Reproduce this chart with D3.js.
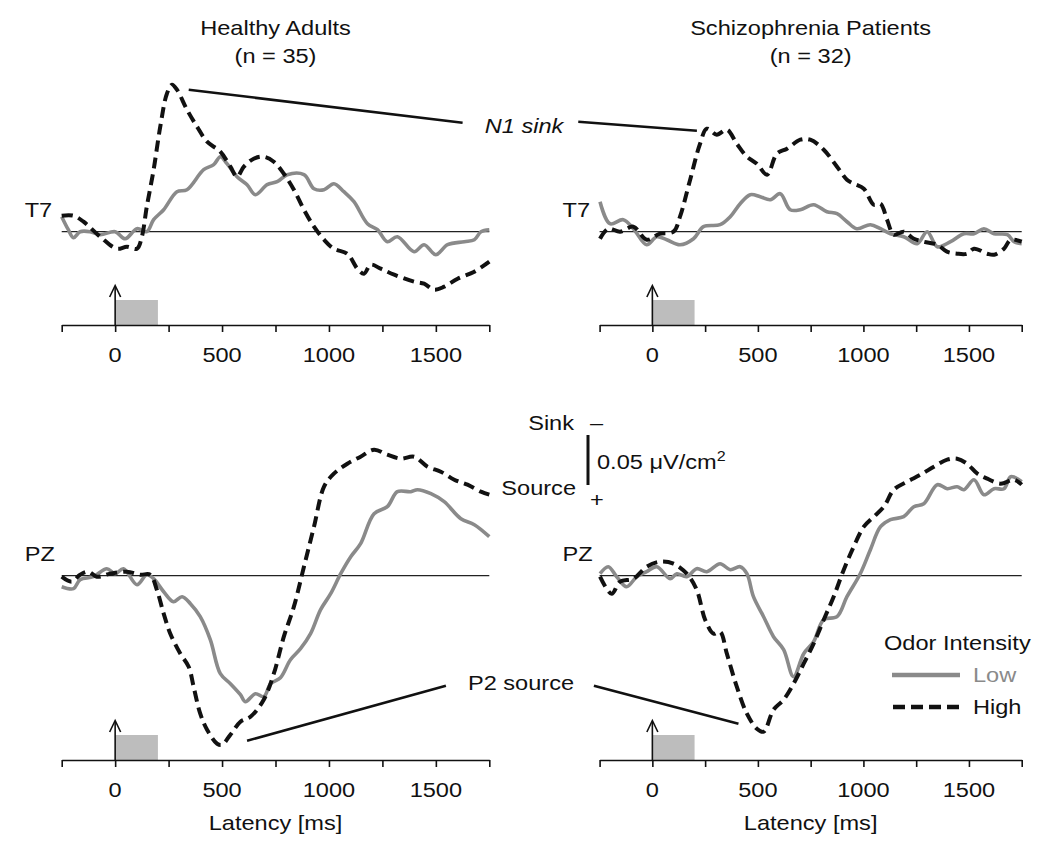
<!DOCTYPE html>
<html><head><meta charset="utf-8">
<script src="https://cdn.jsdelivr.net/npm/d3@7"></script>
<style>
html,body{margin:0;padding:0;background:#fff;}
svg{display:block;font-family:"Liberation Sans",Arial,Helvetica,sans-serif;}
</style></head>
<body>
<svg id="chart" width="1050" height="846"></svg>
<script>
// ---------- DATA (latency in ms, CSD in µV/cm², sink negative / source positive) ----------
const groups = ["Healthy Adults", "Schizophrenia Patients"];
const groupN = ["(n = 35)", "(n = 32)"];
const electrodes = ["T7", "PZ"];
const xTickValues = [-250, 0, 250, 500, 750, 1000, 1250, 1500, 1750];
const xTickLabels = ["", "0", "", "500", "", "1000", "", "1500", ""];
const seriesNames = ["Low", "High"];

// T7 – Healthy – Low
const t7HealthyLowT = [-250,-219,-195,-164,-117,-70,0,47,102,148,180,227,289,336,414,461,492,523,570,617,656,711,758,805,883,930,977,1023,1070,1117,1180,1227,1273,1320,1398,1445,1500,1555,1633,1680,1711,1750];
const t7HealthyLowV = [-0.015,-0.002,0.006,0,0,0.003,0,0.007,-0.003,0,-0.012,-0.022,-0.040,-0.042,-0.062,-0.067,-0.075,-0.068,-0.055,-0.047,-0.037,-0.047,-0.050,-0.057,-0.057,-0.043,-0.042,-0.048,-0.040,-0.030,-0.008,-0.002,0.010,0.005,0.020,0.013,0.023,0.013,0.010,0.008,0,-0.002];
// T7 – Healthy – High
const t7HealthyHighT = [-250,-195,-148,-70,8,55,102,125,148,180,211,242,266,289,336,383,430,492,539,570,602,648,695,742,789,836,883,930,977,1023,1086,1133,1164,1195,1242,1305,1398,1445,1492,1539,1602,1680,1750];
const t7HealthyHighV = [-0.016,-0.016,-0.010,0.005,0.017,0.015,0.017,0.005,-0.025,-0.062,-0.105,-0.138,-0.147,-0.142,-0.122,-0.105,-0.090,-0.080,-0.065,-0.055,-0.065,-0.073,-0.075,-0.070,-0.058,-0.042,-0.022,-0.005,0.008,0.017,0.022,0.037,0.042,0.033,0.037,0.043,0.050,0.052,0.058,0.055,0.047,0.040,0.030];
// T7 – Patients – Low
const t7PatientLowT = [-248,-201,-138,-90,-27,21,68,131,195,242,321,369,416,464,511,559,606,653,701,764,827,875,922,969,1033,1081,1128,1191,1255,1302,1350,1413,1476,1524,1571,1619,1682,1714,1750];
const t7PatientLowV = [-0.030,-0.008,-0.012,-0.003,0.013,0.005,0.008,0.013,0.007,-0.005,-0.007,-0.015,-0.028,-0.037,-0.035,-0.032,-0.038,-0.022,-0.022,-0.027,-0.020,-0.018,-0.010,-0.003,-0.007,-0.003,0.002,0.005,0.012,0,0.015,0.010,0.002,0.002,-0.003,0.002,0.003,0.010,0.012];
// T7 – Patients – High
const t7PatientHighT = [-248,-209,-153,-90,-27,36,100,131,179,226,258,305,353,400,448,495,543,590,638,701,748,812,875,922,954,1002,1049,1081,1112,1144,1191,1239,1286,1350,1396,1444,1491,1524,1587,1619,1666,1698,1750];
const t7PatientHighV = [0.007,-0.003,0,-0.005,0.008,0.002,0,-0.015,-0.052,-0.088,-0.103,-0.097,-0.102,-0.088,-0.075,-0.068,-0.057,-0.078,-0.083,-0.092,-0.092,-0.082,-0.065,-0.052,-0.048,-0.043,-0.027,-0.028,-0.012,0.003,0,0.007,0.010,0.013,0.020,0.022,0.022,0.017,0.022,0.023,0.017,0.008,0.010];
// PZ – Healthy – Low
const pzHealthyLowT = [-250,-195,-164,-102,-39,0,39,102,148,180,227,273,313,352,398,445,492,539,586,609,656,695,727,773,820,867,914,961,1008,1055,1102,1148,1211,1273,1320,1383,1414,1477,1539,1617,1680,1750];
const pzHealthyLowV = [0.011,0.013,0.004,0.001,-0.007,-0.002,-0.007,0.009,-0.001,0.003,0.016,0.026,0.021,0.028,0.041,0.064,0.098,0.108,0.119,0.126,0.118,0.121,0.108,0.102,0.084,0.073,0.058,0.034,0.018,-0.002,-0.019,-0.032,-0.062,-0.069,-0.084,-0.084,-0.086,-0.082,-0.074,-0.057,-0.051,-0.039];
// PZ – Healthy – High
const pzHealthyHighT = [-250,-203,-164,-125,-86,-23,55,117,164,195,227,258,305,344,367,398,430,477,500,539,586,633,695,742,789,836,883,930,977,1023,1086,1148,1211,1273,1336,1398,1461,1523,1586,1648,1711,1750];
const pzHealthyHighV = [0.001,0.006,-0.001,-0.004,0.001,-0.002,-0.004,-0.001,-0.001,0.014,0.038,0.058,0.078,0.091,0.111,0.138,0.154,0.168,0.169,0.159,0.146,0.141,0.124,0.098,0.061,0.031,-0.009,-0.049,-0.089,-0.102,-0.112,-0.119,-0.126,-0.121,-0.117,-0.119,-0.109,-0.104,-0.096,-0.091,-0.084,-0.081];
// PZ – Patients – Low
const pzPatientLowT = [-248,-209,-169,-122,-74,-27,21,84,116,163,210,258,321,369,416,448,479,527,574,622,669,717,764,812,875,922,985,1033,1081,1128,1191,1239,1286,1350,1397,1444,1476,1524,1571,1619,1666,1698,1750];
const pzPatientLowV = [-0.002,-0.009,0.001,0.011,0.001,-0.004,-0.009,0.003,-0.002,0.001,-0.007,-0.004,-0.012,-0.006,-0.009,-0.002,0.021,0.041,0.061,0.074,0.101,0.078,0.066,0.044,0.041,0.021,-0.002,-0.026,-0.049,-0.056,-0.059,-0.069,-0.072,-0.091,-0.087,-0.089,-0.086,-0.096,-0.081,-0.087,-0.087,-0.099,-0.094];
// PZ – Patients – High
const pzPatientHighT = [-248,-193,-153,-90,-27,36,100,163,210,250,290,321,353,400,448,495,527,574,622,669,717,764,812,859,907,954,1002,1049,1097,1144,1207,1271,1334,1397,1444,1491,1540,1587,1650,1714,1750];
const pzPatientHighV = [0.001,0.018,0.006,0.003,-0.009,-0.014,-0.012,-0.002,0.014,0.044,0.058,0.056,0.078,0.111,0.138,0.153,0.156,0.134,0.124,0.108,0.088,0.068,0.044,0.021,-0.006,-0.029,-0.049,-0.059,-0.069,-0.086,-0.094,-0.101,-0.109,-0.116,-0.117,-0.112,-0.102,-0.097,-0.092,-0.096,-0.091];

const stimulusWindow = [0, 200];   // odor presentation (ms)
const scaleBarValue = 0.05;        // µV/cm²

// ---------- LAYOUT ----------
const svg = d3.select("#chart");
const SX = 1.15;           // horizontal text stretch of the original figure
const FS = 20.5;
const cLow = "#8a8a8a", cHigh = "#111";

function txt(x, y, s, anchor, opt = {}) {
  const t = svg.append("text")
    .attr("transform", `translate(${x},${y}) scale(${SX},1)`)
    .attr("text-anchor", anchor || "start")
    .attr("font-size", opt.size || FS)
    .attr("fill", opt.fill || "#111")
    .attr("font-style", opt.italic ? "italic" : null)
    .text(s);
  return t;
}

const colX = [[61.7, 489.3], [599.6, 1021.7]];
const rowY = [{ zero: 231.7, axis: 325 }, { zero: 575.7, axis: 760 }];
const pxPerUnit = 1000;  // px per µV/cm²

const panels = [
  { row: 0, col: 0, low: [t7HealthyLowT, t7HealthyLowV], high: [t7HealthyHighT, t7HealthyHighV] },
  { row: 0, col: 1, low: [t7PatientLowT, t7PatientLowV], high: [t7PatientHighT, t7PatientHighV] },
  { row: 1, col: 0, low: [pzHealthyLowT, pzHealthyLowV], high: [pzHealthyHighT, pzHealthyHighV] },
  { row: 1, col: 1, low: [pzPatientLowT, pzPatientLowV], high: [pzPatientHighT, pzPatientHighV] },
];

const scales = {};
panels.forEach(p => {
  const x = d3.scaleLinear().domain([-250, 1750]).range(colX[p.col]);
  const z = rowY[p.row].zero;
  const y = d3.scaleLinear().domain([-0.2, 0.2]).range([z - 0.2 * pxPerUnit, z + 0.2 * pxPerUnit]);
  scales[p.row + "_" + p.col] = { x, y };
  const g = svg.append("g");
  const axisY = rowY[p.row].axis;

  // stimulus bar
  g.append("rect")
    .attr("x", x(stimulusWindow[0])).attr("width", x(stimulusWindow[1]) - x(stimulusWindow[0]))
    .attr("y", axisY - 25).attr("height", 25).attr("fill", "#bdbdbd");
  // onset arrow
  const ax = x(0);
  g.append("line").attr("x1", ax).attr("x2", ax).attr("y1", axisY).attr("y2", axisY - 38)
    .attr("stroke", "#111").attr("stroke-width", 1.6);
  g.append("path").attr("d", `M${ax - 5.5},${axisY - 28} L${ax},${axisY - 39.5} L${ax + 5.5},${axisY - 28}`)
    .attr("fill", "none").attr("stroke", "#111").attr("stroke-width", 1.6);

  // x axis
  const xAxis = d3.axisBottom(x).tickValues(xTickValues).tickSize(7).tickSizeOuter(0)
    .tickFormat((d, i) => "");
  const axG = g.append("g").attr("transform", `translate(0,${axisY})`).call(xAxis);
  axG.select(".domain").attr("stroke", "#111").attr("stroke-width", 1.6);
  axG.selectAll(".tick line").attr("stroke", "#111").attr("stroke-width", 1.6);
  xTickValues.forEach((v, i) => {
    if (xTickLabels[i]) txt(x(v), axisY + 37, xTickLabels[i], "middle");
  });

  // zero line
  g.append("line").attr("x1", x(-250)).attr("x2", x(1750)).attr("y1", y(0)).attr("y2", y(0))
    .attr("stroke", "#222").attr("stroke-width", 1.3);

  const line = d3.line().curve(d3.curveCatmullRom.alpha(0.5)).x(d => x(d[0])).y(d => y(d[1]));
  const lowPts = p.low[0].map((t, i) => [t, p.low[1][i]]);
  const highPts = p.high[0].map((t, i) => [t, p.high[1][i]]);
  g.append("path").attr("d", line(lowPts)).attr("fill", "none").attr("stroke", cLow)
    .attr("stroke-width", 3.6).attr("stroke-linejoin", "round");
  g.append("path").attr("d", line(highPts)).attr("fill", "none").attr("stroke", cHigh)
    .attr("stroke-width", 4).attr("stroke-dasharray", "11,6");

  // electrode label
  txt(colX[p.col][0] - 37, z - 15, electrodes[p.row], "start");
});

// titles
groups.forEach((gname, i) => {
  const cx = (colX[i][0] + colX[i][1]) / 2;
  txt(cx, 35, gname, "middle");
  txt(cx, 63, groupN[i], "middle");
});

// x axis titles
[0, 1].forEach(c => txt((colX[c][0] + colX[c][1]) / 2, 830, "Latency [ms]", "middle"));

// annotations N1 sink
const sTL = scales["0_0"], sTR = scales["0_1"], sBL = scales["1_0"], sBR = scales["1_1"];
function annLine(s, t1, v1, t2, v2) {
  svg.append("line").attr("x1", s.x(t1)).attr("y1", s.y(v1)).attr("x2", s.x(t2)).attr("y2", s.y(v2))
    .attr("stroke", "#111").attr("stroke-width", 2.6);
}
annLine(sTL, 344, -0.142, 1625, -0.109);
annLine(sTR, -351, -0.110, 211, -0.101);
txt(524, 133, "N1 sink", "middle", { italic: true });
// P2 source
annLine(sBL, 617, 0.165, 1547, 0.110);
annLine(sBR, -277, 0.110, 408, 0.148);
txt(521, 690, "P2 source", "middle");

// scale bar
const barX = 588, barTop = 435;
svg.append("line").attr("x1", barX).attr("x2", barX).attr("y1", barTop).attr("y2", barTop + scaleBarValue * pxPerUnit)
  .attr("stroke", "#111").attr("stroke-width", 3);
txt(574, 430, "Sink", "end");
txt(590, 430, "–", "start");
txt(576, 495, "Source", "end");
txt(597, 507, "+", "middle");
const sb = txt(597, 469, "0.05 μV/cm", "start");
sb.append("tspan").attr("dy", -8).attr("font-size", 14).text("2");

// legend
txt(884, 650, "Odor Intensity", "start");
svg.append("line").attr("x1", 892).attr("x2", 960).attr("y1", 675).attr("y2", 675)
  .attr("stroke", cLow).attr("stroke-width", 4.5);
txt(973, 682, seriesNames[0], "start", { fill: cLow });
svg.append("line").attr("x1", 893).attr("x2", 960).attr("y1", 707).attr("y2", 707)
  .attr("stroke", cHigh).attr("stroke-width", 4.5).attr("stroke-dasharray", "12,6");
txt(973, 714, seriesNames[1], "start");
</script>
</body></html>
